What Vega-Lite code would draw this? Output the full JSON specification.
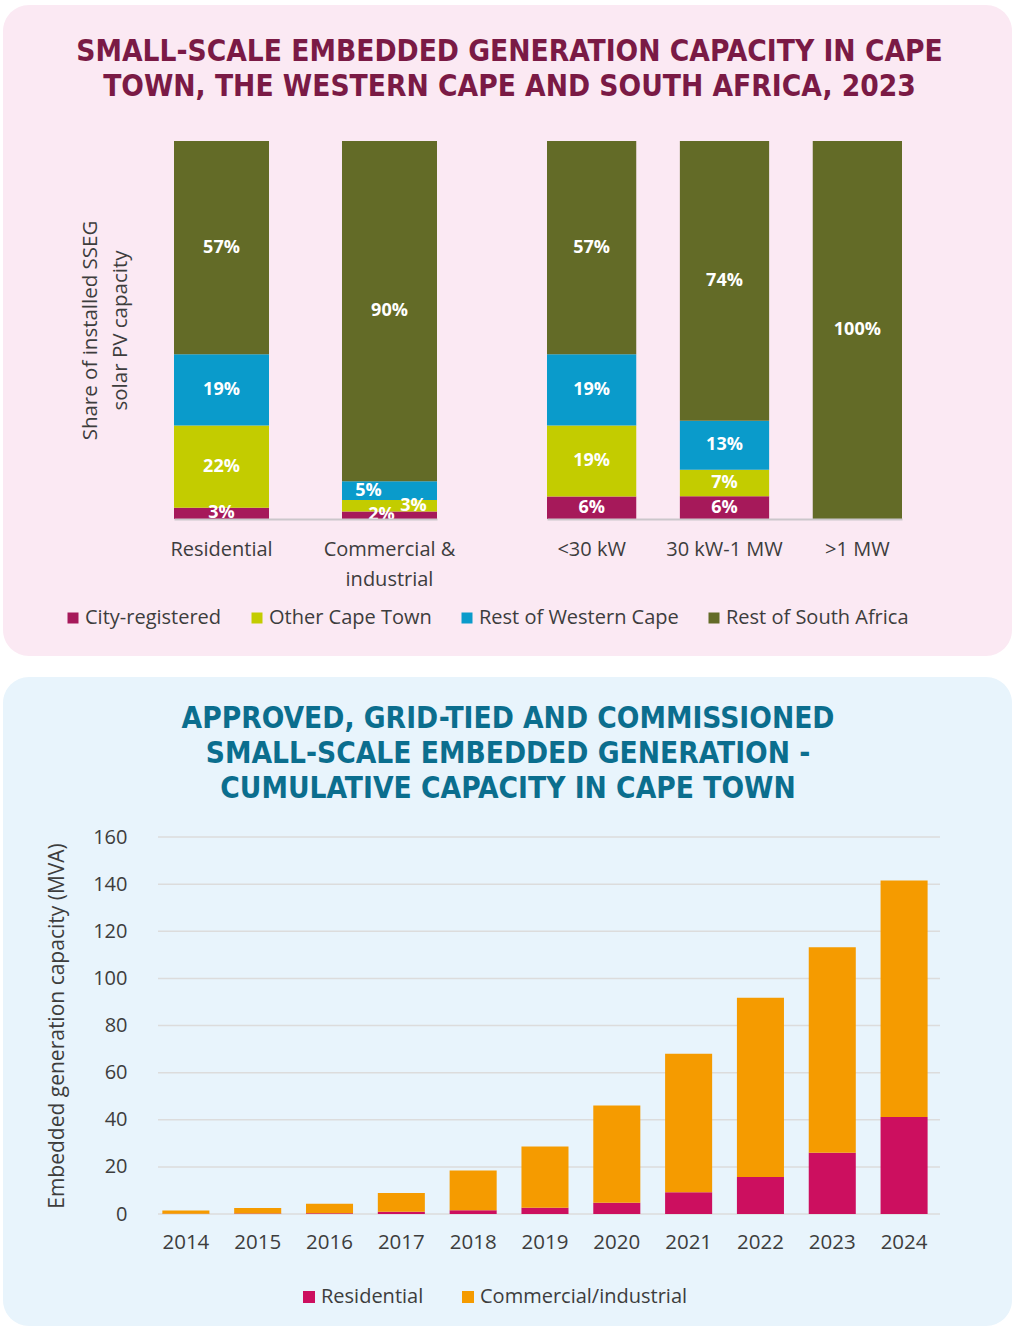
{
  "$schema": "https://vega.github.io/schema/vega-lite/v6.json",
  "background": "white",
  "padding": {"left": 3, "top": 4, "right": 0, "bottom": 0},
  "spacing": 21,
  "resolve": {"scale": {"color": "independent"}},
  "config": {
    "view": {"stroke": null},
    "font": "Open Sans",
    "axis": {"ticks": false, "tickSize": 0, "domain": false, "grid": false, "labelFont": "Open Sans", "labelColor": "#3d3d3d", "titleFont": "Open Sans", "titleColor": "#3d3d3d", "titleFontWeight": "normal"}
  },
  "vconcat": [
    {
      "width": 749,
      "height": 378,
      "title": {
        "text": ["SMALL-SCALE EMBEDDED GENERATION CAPACITY IN CAPE", "TOWN, THE WESTERN CAPE AND SOUTH AFRICA, 2023"],
        "font": "DejaVu Sans Condensed", "fontWeight": "bold", "fontSize": 29.6, "color": "#7a1a45",
        "lineHeight": 35, "anchor": "middle", "dx": -23, "offset": -98, "zindex": 1
      },
      "data": {"values": [
        {"cat": "Residential", "series": "City-registered", "share": 0.03, "k": 1},
        {"cat": "Residential", "series": "Other Cape Town", "share": 0.22, "k": 2},
        {"cat": "Residential", "series": "Rest of Western Cape", "share": 0.19, "k": 3},
        {"cat": "Residential", "series": "Rest of South Africa", "share": 0.57, "k": 4},
        {"cat": "Commercial & industrial", "series": "City-registered", "share": 0.02, "k": 1},
        {"cat": "Commercial & industrial", "series": "Other Cape Town", "share": 0.03, "k": 2},
        {"cat": "Commercial & industrial", "series": "Rest of Western Cape", "share": 0.05, "k": 3},
        {"cat": "Commercial & industrial", "series": "Rest of South Africa", "share": 0.90, "k": 4},
        {"cat": "<30 kW", "series": "City-registered", "share": 0.06, "k": 1},
        {"cat": "<30 kW", "series": "Other Cape Town", "share": 0.19, "k": 2},
        {"cat": "<30 kW", "series": "Rest of Western Cape", "share": 0.19, "k": 3},
        {"cat": "<30 kW", "series": "Rest of South Africa", "share": 0.57, "k": 4},
        {"cat": "30 kW-1 MW", "series": "City-registered", "share": 0.06, "k": 1},
        {"cat": "30 kW-1 MW", "series": "Other Cape Town", "share": 0.07, "k": 2},
        {"cat": "30 kW-1 MW", "series": "Rest of Western Cape", "share": 0.13, "k": 3},
        {"cat": "30 kW-1 MW", "series": "Rest of South Africa", "share": 0.74, "k": 4},
        {"cat": ">1 MW", "series": "Rest of South Africa", "share": 1.00, "k": 4}
      ]},
      "layer": [
        {
          "data": {"values": [{}]},
          "mark": {"type": "rect", "color": "#fbe9f3", "cornerRadius": 26},
          "encoding": {
            "x": {"datum": -0.2069, "type": "quantitative", "scale": {"domain": [0, 1]}, "axis": null},
            "x2": {"datum": 1.1402},
            "y": {"datum": 1.3598, "type": "quantitative", "scale": {"domain": [0, 1]}, "axis": null},
            "y2": {"datum": -0.3624}
          }
        },
        {
          "transform": [{"filter": {"field": "cat", "oneOf": ["Residential", "Commercial & industrial"]}}],
          "encoding": {
            "x": {"field": "cat", "type": "nominal", "sort": ["Residential", "Commercial & industrial"],
              "scale": {"range": [16, 279], "paddingInner": 0.4345, "paddingOuter": 0},
              "axis": {"orient": "bottom", "zindex": 1, "title": null, "domain": true, "domainColor": "#cbc7cb", "domainWidth": 2, "labelAngle": 0, "labelFontSize": 20, "labelPadding": 20, "labelLineHeight": 30,
                "labelExpr": "datum.value == 'Commercial & industrial' ? ['Commercial &', 'industrial'] : datum.value"}},
            "y": {"field": "share", "type": "quantitative", "stack": "normalize",
              "axis": {"orient": "left", "zindex": 1, "title": ["Share of installed SSEG", "solar PV capacity"], "labels": false, "titleFontSize": 20.5, "titlePadding": 28, "titleLineHeight": 30}},
            "order": {"field": "k"},
            "detail": {"field": "series"}
          },
          "layer": [
            {
              "mark": {"type": "bar"},
              "encoding": {
                "color": {"field": "series", "type": "nominal",
                  "scale": {"domain": ["City-registered", "Other Cape Town", "Rest of Western Cape", "Rest of South Africa"], "range": ["#a6195a", "#c3cc00", "#0a9bcb", "#636b27"]},
                  "legend": {"orient": "none", "legendX": -95, "legendY": 467, "direction": "horizontal", "title": null, "symbolType": "square", "symbolSize": 121, "symbolStrokeWidth": 0, "labelFontSize": 20, "labelFont": "Open Sans", "labelColor": "#3d3d3d", "labelLimit": 400, "columnPadding": 25, "labelOffset": 2, "zindex": 1}}
              }
            },
            {
              "mark": {"type": "text", "color": "white", "font": "Open Sans", "fontWeight": "bold", "fontSize": 18, "clip": true},
              "encoding": {
                "y": {"field": "share", "type": "quantitative", "stack": "normalize", "bandPosition": 0.5},
                "text": {"condition": {"test": "!(datum.cat == 'Commercial & industrial' && datum.k < 4)", "field": "share", "type": "quantitative", "format": ".0%"}, "value": ""}}
            },
            {
              "mark": {"type": "text", "color": "white", "font": "Open Sans", "fontWeight": "bold", "fontSize": 18, "clip": true, "dx": -21},
              "encoding": {
                "y": {"field": "share", "type": "quantitative", "stack": "normalize", "bandPosition": 0.5},
                "text": {"condition": {"test": "datum.cat == 'Commercial & industrial' && datum.k == 3", "field": "share", "type": "quantitative", "format": ".0%"}, "value": ""}}
            },
            {
              "mark": {"type": "text", "color": "white", "font": "Open Sans", "fontWeight": "bold", "fontSize": 18, "clip": true, "dx": 24},
              "encoding": {
                "y": {"field": "share", "type": "quantitative", "stack": "normalize", "bandPosition": 0.5},
                "text": {"condition": {"test": "datum.cat == 'Commercial & industrial' && datum.k == 2", "field": "share", "type": "quantitative", "format": ".0%"}, "value": ""}}
            },
            {
              "mark": {"type": "text", "color": "white", "font": "Open Sans", "fontWeight": "bold", "fontSize": 18, "clip": true, "dx": -8},
              "encoding": {
                "y": {"field": "share", "type": "quantitative", "stack": "normalize", "bandPosition": 0.5},
                "text": {"condition": {"test": "datum.cat == 'Commercial & industrial' && datum.k == 1", "field": "share", "type": "quantitative", "format": ".0%"}, "value": ""}}
            }
          ]
        },
        {
          "transform": [{"filter": {"field": "cat", "oneOf": ["<30 kW", "30 kW-1 MW", ">1 MW"]}}],
          "encoding": {
            "x": {"field": "cat", "type": "nominal", "sort": ["<30 kW", "30 kW-1 MW", ">1 MW"],
              "scale": {"range": [389, 744], "paddingInner": 0.3283, "paddingOuter": 0},
              "axis": {"orient": "bottom", "zindex": 1, "title": null, "domain": true, "domainColor": "#cbc7cb", "domainWidth": 2, "labelAngle": 0, "labelFontSize": 20, "labelPadding": 20}},
            "y": {"field": "share", "type": "quantitative", "stack": "normalize", "axis": null},
            "order": {"field": "k"},
            "detail": {"field": "series"}
          },
          "layer": [
            {
              "mark": {"type": "bar"},
              "encoding": {"color": {"field": "series", "type": "nominal"}}
            },
            {
              "mark": {"type": "text", "color": "white", "font": "Open Sans", "fontWeight": "bold", "fontSize": 18, "clip": true},
              "encoding": {
                "y": {"field": "share", "type": "quantitative", "stack": "normalize", "bandPosition": 0.5},
                "text": {"field": "share", "type": "quantitative", "format": ".0%"}}
            }
          ]
        }
      ],
      "resolve": {"scale": {"x": "independent", "y": "independent"}}
    },
    {
      "width": 782,
      "height": 377,
      "title": {
        "text": ["APPROVED, GRID-TIED AND COMMISSIONED", "SMALL-SCALE EMBEDDED GENERATION -", "CUMULATIVE CAPACITY IN CAPE TOWN"],
        "font": "DejaVu Sans Condensed", "fontWeight": "bold", "fontSize": 29.6, "color": "#0b6e8e",
        "lineHeight": 35, "anchor": "middle", "dx": -41, "offset": -128, "zindex": 1
      },
      "layer": [
        {
          "data": {"values": [{}]},
          "mark": {"type": "rect", "color": "#e8f4fc", "cornerRadius": 26},
          "encoding": {
            "x": {"datum": -0.1982, "type": "quantitative", "scale": {"domain": [0, 1]}, "axis": null},
            "x2": {"datum": 1.0921},
            "y": {"datum": 1.4244, "type": "quantitative", "scale": {"domain": [0, 1]}, "axis": null},
            "y2": {"datum": -0.2971}
          }
        },
        {
          "layer": [
            {
              "data": {"values": [{"v": 0}, {"v": 20}, {"v": 40}, {"v": 60}, {"v": 80}, {"v": 100}, {"v": 120}, {"v": 140}, {"v": 160}]},
              "mark": {"type": "rule", "color": "#dcdcdc", "strokeWidth": 1.5},
              "encoding": {
                "y": {"field": "v", "type": "quantitative", "scale": {"domain": [0, 160]},
                  "axis": {"zindex": 1, "title": "Embedded generation capacity (MVA)", "values": [0, 20, 40, 60, 80, 100, 120, 140, 160], "labelFontSize": 20, "labelPadding": 31, "titleFontSize": 21, "titlePadding": 25}}
              }
            },
            {
              "data": {"values": [
                {"year": "2014", "type": "Residential", "mva": 0.1}, {"year": "2014", "type": "Commercial/industrial", "mva": 1.4},
                {"year": "2015", "type": "Residential", "mva": 0.2}, {"year": "2015", "type": "Commercial/industrial", "mva": 2.3},
                {"year": "2016", "type": "Residential", "mva": 0.3}, {"year": "2016", "type": "Commercial/industrial", "mva": 4.1},
                {"year": "2017", "type": "Residential", "mva": 1.0}, {"year": "2017", "type": "Commercial/industrial", "mva": 7.9},
                {"year": "2018", "type": "Residential", "mva": 1.6}, {"year": "2018", "type": "Commercial/industrial", "mva": 16.9},
                {"year": "2019", "type": "Residential", "mva": 2.6}, {"year": "2019", "type": "Commercial/industrial", "mva": 26.0},
                {"year": "2020", "type": "Residential", "mva": 4.8}, {"year": "2020", "type": "Commercial/industrial", "mva": 41.2},
                {"year": "2021", "type": "Residential", "mva": 9.2}, {"year": "2021", "type": "Commercial/industrial", "mva": 58.8},
                {"year": "2022", "type": "Residential", "mva": 15.7}, {"year": "2022", "type": "Commercial/industrial", "mva": 76.1},
                {"year": "2023", "type": "Residential", "mva": 26.0}, {"year": "2023", "type": "Commercial/industrial", "mva": 87.2},
                {"year": "2024", "type": "Residential", "mva": 41.2}, {"year": "2024", "type": "Commercial/industrial", "mva": 100.3}
              ]},
              "mark": {"type": "bar"},
              "encoding": {
                "x": {"field": "year", "type": "nominal", "scale": {"paddingInner": 0.345, "paddingOuter": 0.1166, "align": 0.26},
                  "axis": {"zindex": 1, "title": null, "labelAngle": 0, "labelFontSize": 20.5, "labelPadding": 18}},
                "y": {"field": "mva", "type": "quantitative", "stack": "zero", "scale": {"domain": [0, 160]},
                  "axis": {"zindex": 1, "title": "Embedded generation capacity (MVA)", "values": [0, 20, 40, 60, 80, 100, 120, 140, 160], "labelFontSize": 20, "labelPadding": 31, "titleFontSize": 21, "titlePadding": 25}},
                "color": {"field": "type", "type": "nominal",
                  "scale": {"domain": ["Residential", "Commercial/industrial"], "range": ["#cc0f5f", "#f59b00"]},
                  "legend": {"orient": "none", "legendX": 141, "legendY": 450, "direction": "horizontal", "title": null, "symbolType": "square", "symbolSize": 144, "symbolStrokeWidth": 0, "labelFontSize": 20, "labelFont": "Open Sans", "labelColor": "#3d3d3d", "labelLimit": 400, "columnPadding": 34, "labelOffset": 2, "zindex": 1}},
                "order": {"field": "type", "sort": "descending"}
              }
            }
          ]
        }
      ],
      "resolve": {"scale": {"x": "independent", "y": "independent"}}
    }
  ]
}
